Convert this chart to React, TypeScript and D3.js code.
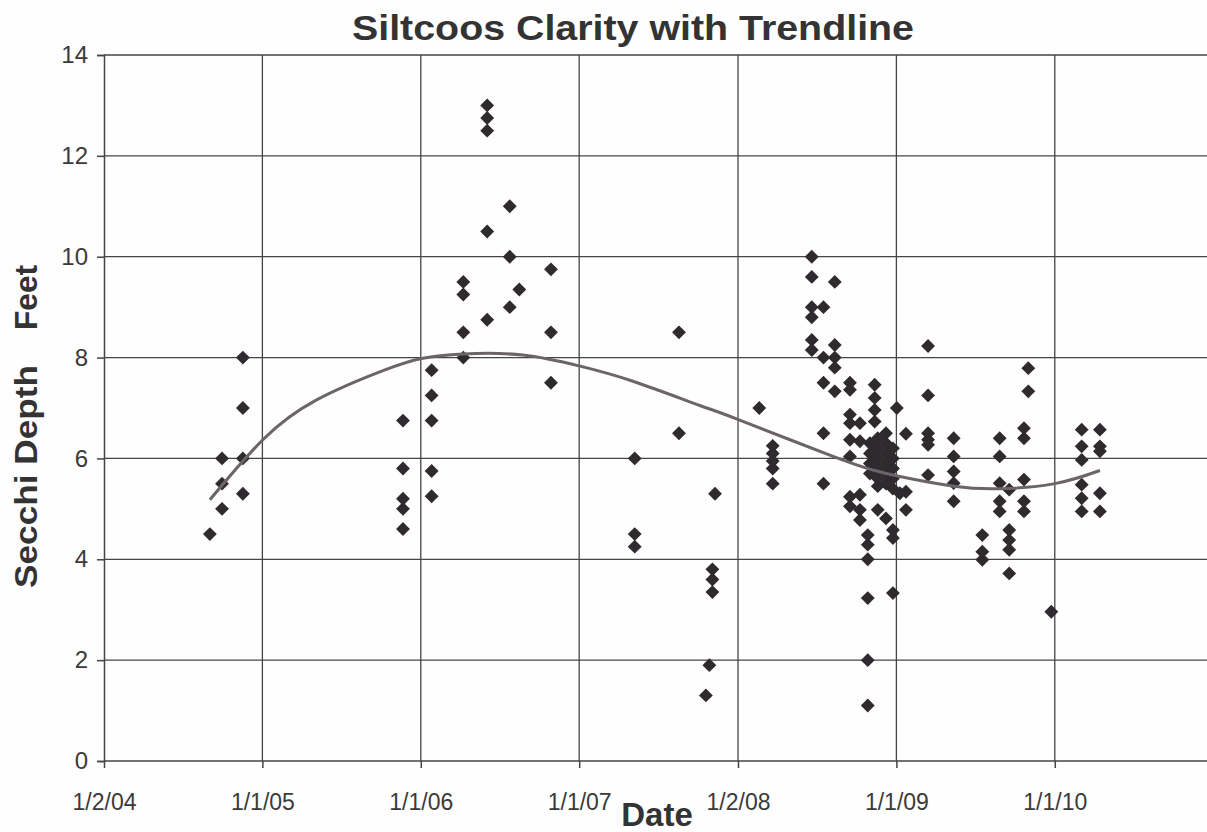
import { useEffect, useRef } from "react";
import * as d3 from "d3";

// axis ticks (Excel date axis, major unit 365.25 days)
const tickDates = ["2004-01-02", "2005-01-01", "2006-01-01", "2007-01-01", "2008-01-02", "2009-01-01", "2010-01-01"];
const tickLabels = ["1/2/04", "1/1/05", "1/1/06", "1/1/07", "1/2/08", "1/1/09", "1/1/10"];
const depthTicks = [0, 2, 4, 6, 8, 10, 12, 14];

// secchi readings, grouped by sampling date: [date, depths in feet]
const samples2004: [string, number[]][] = [
  ["2004-09-02", [4.5]],
  ["2004-09-30", [5.0, 5.5, 6.0]],
  ["2004-11-17", [5.3, 6.0, 7.0, 8.0]],
];
const samples2006: [string, number[]][] = [
  ["2005-11-21", [4.6, 5.0, 5.2, 5.8, 6.75]],
  ["2006-01-26", [5.25, 5.75, 6.75, 7.25, 7.75]],
  ["2006-04-09", [8.0, 8.5, 9.25, 9.5]],
  ["2006-06-03", [8.75, 10.5, 12.5, 12.75, 13.0]],
  ["2006-07-25", [9.0, 10.0, 11.0]],
  ["2006-08-16", [9.35]],
  ["2006-10-28", [7.5, 8.5, 9.75]],
];
const samples2007: [string, number[]][] = [
  ["2007-05-09", [4.25, 4.5, 6.0]],
  ["2007-08-19", [6.5, 8.5]],
  ["2007-10-20", [1.3]],
  ["2007-10-28", [1.9]],
  ["2007-11-04", [3.35, 3.6, 3.8]],
  ["2007-11-10", [5.3]],
];
const samples2008: [string, number[]][] = [
  ["2008-02-20", [7.0]],
  ["2008-03-22", [5.5, 5.8, 5.95, 6.1, 6.25]],
  ["2008-06-20", [8.15, 8.35, 8.8, 9.0, 9.6, 10.0]],
  ["2008-07-17", [5.5, 6.5, 7.5, 8.0, 9.0]],
  ["2008-08-12", [7.33, 7.8, 8.0, 8.25, 9.5]],
  ["2008-09-16", [5.05, 5.24, 6.04, 6.37, 6.7, 6.87, 7.36, 7.5]],
  ["2008-10-09", [4.78, 4.98, 5.28, 6.34, 6.7]],
  ["2008-10-27", [1.1, 2.0, 3.23, 4.0, 4.29, 4.48]],
  ["2008-11-01", [5.7, 5.9, 6.1, 6.3]],
  ["2008-11-12", [6.73, 6.96, 7.2, 7.46]],
  ["2008-11-19", [4.98, 5.45, 5.6, 5.8, 6.0, 6.2, 6.4]],
  ["2008-12-08", [4.81, 5.5, 5.7, 5.9, 6.1, 6.3, 6.5]],
  ["2008-12-24", [3.33, 4.42, 4.58, 5.4, 5.6, 5.8, 6.0, 6.2]],
];
const samples2009: [string, number[]][] = [
  ["2009-01-02", [7.0]],
  ["2009-01-09", [5.31]],
  ["2009-01-23", [4.98, 5.34, 6.49]],
  ["2009-03-15", [5.67, 6.27, 6.37, 6.5, 7.25, 8.23]],
  ["2009-05-13", [5.15, 5.51, 5.74, 6.04, 6.4]],
  ["2009-07-18", [3.99, 4.15, 4.48]],
  ["2009-08-27", [4.95, 5.15, 5.51, 6.04, 6.4]],
  ["2009-09-18", [3.72, 4.19, 4.38, 4.58, 5.38]],
  ["2009-10-22", [4.95, 5.15, 5.58, 6.4, 6.6]],
  ["2009-11-01", [7.33, 7.79]],
  ["2009-12-24", [2.96]],
];
const samples2010: [string, number[]][] = [
  ["2010-03-04", [4.95, 5.21, 5.48, 5.97, 6.24, 6.57]],
  ["2010-04-15", [4.95, 5.31, 6.14, 6.24, 6.57]],
];

// polynomial trendline
const trendDates = ["2004-09-02", "2005-01-02", "2005-05-06", "2005-10-06", "2006-01-03", "2006-04-09", "2006-08-24",
  "2007-01-03", "2007-05-05", "2007-10-06", "2007-12-31", "2008-08-08", "2008-11-08", "2009-01-09", "2009-05-13",
  "2009-08-27", "2010-01-01", "2010-04-15"];
const trendValues = [5.18, 6.37, 7.16, 7.74, 7.98, 8.07, 8.05, 7.83, 7.53, 7.05, 6.78, 6.04, 5.77, 5.64, 5.45, 5.4, 5.5, 5.76];

const parse = d3.timeParse("%Y-%m-%d");
const DAY = 24 * 3600 * 1000;

export default function App() {
  const ref = useRef<SVGSVGElement>(null);

  useEffect(() => {
    if (!ref.current) return;
    const svg = d3.select(ref.current);
    svg.selectAll("*").remove();

    const W = 1207, H = 832;
    const left = 104, top = 55, bottom = 761;
    const start = parse(tickDates[0])!;
    const end = new Date(start.getTime() + 7 * 365.25 * DAY);

    const x = d3.scaleTime().domain([start, end]).range([left, left + 7 * 158.5]);
    const y = d3.scaleLinear().domain([0, 14]).range([bottom, top]);

    svg.append("rect").attr("width", W).attr("height", H).attr("fill", "#fefefe");

    // grid
    const grid = svg.append("g").attr("stroke", "#454545").attr("stroke-width", 1.3);
    grid.selectAll("line.h")
      .data(depthTicks.filter((d) => d > 0))
      .enter()
      .append("line")
      .attr("x1", left)
      .attr("x2", W)
      .attr("y1", (d) => y(d))
      .attr("y2", (d) => y(d));
    grid.selectAll("line.v")
      .data(tickDates.slice(1))
      .enter()
      .append("line")
      .attr("x1", (d) => x(parse(d)!))
      .attr("x2", (d) => x(parse(d)!))
      .attr("y1", top)
      .attr("y2", bottom);

    // axes
    const yAxis = d3.axisLeft(y).tickValues(depthTicks).tickSize(7).tickPadding(9).tickFormat((d) => String(d));
    const gy = svg.append("g").attr("transform", `translate(${left},0)`).call(yAxis);
    gy.selectAll("path, line").attr("stroke", "#444").attr("stroke-width", 1.5);
    gy.selectAll("text")
      .attr("font-family", "Liberation Sans, Arial, sans-serif")
      .attr("font-size", 24)
      .attr("fill", "#3a3a3a");

    const xAxis = d3.axisBottom(x)
      .tickValues(tickDates.map((d) => parse(d)!))
      .tickSize(7)
      .tickPadding(26)
      .tickFormat((_, i) => tickLabels[i]);
    const gx = svg.append("g").attr("transform", `translate(0,${bottom})`).call(xAxis);
    gx.select("path").attr("d", `M${left},0H${W}`);
    gx.selectAll("path, line").attr("stroke", "#444").attr("stroke-width", 1.5);
    gx.selectAll("text")
      .attr("font-family", "Liberation Sans, Arial, sans-serif")
      .attr("font-size", 23)
      .attr("fill", "#3a3a3a");

    // points
    const points = [...samples2004, ...samples2006, ...samples2007, ...samples2008, ...samples2009, ...samples2010]
      .flatMap(([d, vals]) => vals.map((v) => ({ date: parse(d)!, v })));
    const diamond = d3.symbol().type(d3.symbolSquare).size(96);
    svg.append("g")
      .selectAll("path")
      .data(points)
      .enter()
      .append("path")
      .attr("d", diamond)
      .attr("transform", (d) => `translate(${x(d.date)},${y(d.v)}) rotate(45)`)
      .attr("fill", "#2f2a2d");

    // trendline
    const trend = trendDates.map((d, i) => ({ date: parse(d)!, v: trendValues[i] }));
    const line = d3.line<{ date: Date; v: number }>()
      .x((d) => x(d.date))
      .y((d) => y(d.v))
      .curve(d3.curveNatural);
    svg.append("path")
      .datum(trend)
      .attr("fill", "none")
      .attr("stroke", "#6b6468")
      .attr("stroke-width", 3)
      .attr("d", line);

    // titles
    svg.append("text")
      .attr("x", 633)
      .attr("y", 40)
      .attr("text-anchor", "middle")
      .attr("font-family", "Liberation Sans, Arial, sans-serif")
      .attr("font-weight", "bold")
      .attr("font-size", 35)
      .attr("textLength", 562)
      .attr("lengthAdjust", "spacingAndGlyphs")
      .attr("fill", "#333")
      .text("Siltcoos Clarity with Trendline");

    svg.append("text")
      .attr("x", 657)
      .attr("y", 826)
      .attr("text-anchor", "middle")
      .attr("font-family", "Liberation Sans, Arial, sans-serif")
      .attr("font-weight", "bold")
      .attr("font-size", 33)
      .attr("fill", "#333")
      .text("Date");

    const yl = svg.append("g").attr("transform", "translate(37,0) rotate(-90)")
      .attr("font-family", "Liberation Sans, Arial, sans-serif")
      .attr("font-weight", "bold")
      .attr("font-size", 32)
      .attr("fill", "#333");
    yl.append("text").attr("x", -588).attr("y", 0).attr("textLength", 223).attr("lengthAdjust", "spacingAndGlyphs").text("Secchi Depth");
    yl.append("text").attr("x", -330).attr("y", 0).attr("textLength", 65).attr("lengthAdjust", "spacingAndGlyphs").text("Feet");
  }, []);

  return (
    <svg
      ref={ref}
      width={1207}
      height={832}
      style={{ position: "absolute", left: 0, top: 0, background: "#fff" }}
    />
  );
}
